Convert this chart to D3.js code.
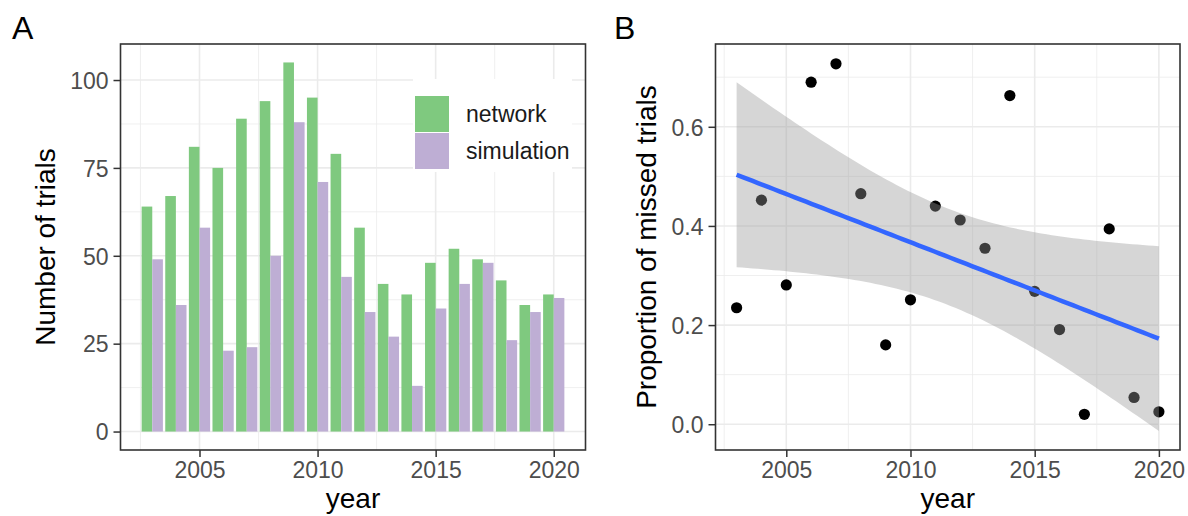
<!DOCTYPE html>
<html>
<head>
<meta charset="utf-8">
<script src="https://cdn.jsdelivr.net/npm/d3@7"></script>
<style>
  body { margin: 0; background: #fff; }
  svg { display: block; font-family: "Liberation Sans", Arial, sans-serif; }
  .tick text { fill: #4d4d4d; font-size: 23px; }
  .tick line { stroke: #333; stroke-width: 1.5; }
  .grid line { stroke: #ebebeb; }
</style>
</head>
<body>
<svg id="chart" width="1188" height="516"></svg>
<script>
// --- data ---
const years = [2003, 2004, 2005, 2006, 2007, 2008, 2009, 2010, 2011,
  2012, 2013, 2014, 2015, 2016, 2017, 2018, 2019, 2020];
const network = [64, 67, 81, 75, 89, 94, 105, 95, 79, 58, 42, 39, 48, 52, 49, 43, 36, 39];
const simulation = [49, 36, 58, 23, 24, 50, 88, 71, 44, 34, 27, 13, 35, 42, 48, 26, 34, 38];
const missed = [0.235, 0.452, 0.281, 0.690, 0.727, 0.465, 0.160, 0.251, 0.440,
  0.412, 0.355, 0.663, 0.268, 0.191, 0.020, 0.394, 0.054, 0.025];

const seriesNames = ["network", "simulation"];
const seriesColors = ["#7fc97f", "#beaed4"];
const yearTicks = [2005, 2010, 2015, 2020];
const countTicks = [0, 25, 50, 75, 100];
const propTicks = [0, 0.2, 0.4, 0.6];

const svg = d3.select("#chart");

// ggplot-ish minor breaks: halfway between majors, kept inside the domain
function minorBreaks(ticks, domain) {
  const step = ticks[1] - ticks[0];
  const out = [];
  for (let v = ticks[0] - step / 2; v <= domain[1]; v += step) {
    if (v >= domain[0]) out.push(v);
  }
  return out;
}

function makePanel(box, xDomain, yDomain, xTicks, yTicks, yFmt) {
  const x = d3.scaleLinear().domain(xDomain).range([box.left, box.right]);
  const y = d3.scaleLinear().domain(yDomain).range([box.bottom, box.top]);

  const grid = svg.append("g").attr("class", "grid");
  grid.selectAll(".vminor")
    .data(minorBreaks(xTicks, xDomain))
    .enter().append("line")
    .attr("x1", d => x(d)).attr("x2", d => x(d))
    .attr("y1", box.top).attr("y2", box.bottom)
    .attr("stroke-width", 0.8);
  grid.selectAll(".hminor")
    .data(minorBreaks(yTicks, yDomain))
    .enter().append("line")
    .attr("y1", d => y(d)).attr("y2", d => y(d))
    .attr("x1", box.left).attr("x2", box.right)
    .attr("stroke-width", 0.8);
  grid.selectAll(".vmajor")
    .data(xTicks)
    .enter().append("line")
    .attr("x1", d => x(d)).attr("x2", d => x(d))
    .attr("y1", box.top).attr("y2", box.bottom)
    .attr("stroke-width", 1.6);
  grid.selectAll(".hmajor")
    .data(yTicks)
    .enter().append("line")
    .attr("y1", d => y(d)).attr("y2", d => y(d))
    .attr("x1", box.left).attr("x2", box.right)
    .attr("stroke-width", 1.6);

  const data = svg.append("g");
  const front = svg.append("g");

  const finish = () => {
    front.append("g")
      .attr("transform", `translate(0,${box.bottom})`)
      .call(d3.axisBottom(x).tickValues(xTicks).tickFormat(d3.format("d"))
        .tickSize(7).tickPadding(5))
      .call(g => g.select(".domain").remove());
    front.append("g")
      .attr("transform", `translate(${box.left},0)`)
      .call(d3.axisLeft(y).tickValues(yTicks).tickFormat(yFmt)
        .tickSize(7).tickPadding(5))
      .call(g => g.select(".domain").remove())
      .selectAll("text").attr("dy", "0.36em");
    front.append("rect")
      .attr("x", box.left).attr("y", box.top)
      .attr("width", box.right - box.left)
      .attr("height", box.bottom - box.top)
      .attr("fill", "none")
      .attr("stroke", "#333")
      .attr("stroke-width", 1.6);
  };

  return { x, y, data, front, finish, box };
}

// --- panel A: bars ---
const boxA = { left: 120.5, right: 585.5, top: 44, bottom: 450 };
const pa = makePanel(boxA, [2001.655, 2021.345], [-5.25, 110.25],
  yearTicks, countTicks, d3.format("d"));

const barW = 0.45;
const rows = [];
years.forEach((yr, i) => {
  rows.push({ year: yr, s: 0, value: network[i] });
  rows.push({ year: yr, s: 1, value: simulation[i] });
});

pa.data.selectAll(".bar")
  .data(rows)
  .enter()
  .append("rect")
  .attr("class", "bar")
  .attr("x", d => pa.x(d.year - barW + d.s * barW))
  .attr("width", pa.x(barW) - pa.x(0))
  .attr("y", d => pa.y(d.value))
  .attr("height", d => pa.y(0) - pa.y(d.value))
  .attr("fill", d => seriesColors[d.s]);

// legend sits inside the panel
const leg = pa.data.append("g");
leg.append("rect")
  .attr("x", 413).attr("y", 79)
  .attr("width", 159).attr("height", 93)
  .attr("fill", "#fff");
seriesNames.forEach((name, i) => {
  leg.append("rect")
    .attr("x", 415).attr("y", 96 + i * 37)
    .attr("width", 34).attr("height", 36)
    .attr("fill", seriesColors[i]);
  leg.append("text")
    .attr("x", 466).attr("y", 121.5 + i * 37.5)
    .attr("font-size", 23)
    .attr("fill", "#1a1a1a")
    .text(name);
});
pa.finish();

// --- panel B: points + lm fit ---
const boxB = { left: 715.5, right: 1180, top: 44, bottom: 450 };
const pb = makePanel(boxB, [2002.15, 2020.85], [-0.052, 0.767],
  yearTicks, propTicks, d3.format(".1f"));

pb.data.selectAll(".pt")
  .data(years)
  .enter()
  .append("circle")
  .attr("class", "pt")
  .attr("cx", d => pb.x(d))
  .attr("cy", (d, i) => pb.y(missed[i]))
  .attr("r", 5.6)
  .attr("fill", "#000");

// simple linear regression with 95% confidence band
const n = years.length;
const xm = d3.mean(years), ym = d3.mean(missed);
const sxx = d3.sum(years, v => (v - xm) ** 2);
const sxy = d3.sum(years, (v, i) => (v - xm) * (missed[i] - ym));
const slope = sxy / sxx;
const icpt = ym - slope * xm;
const rss = d3.sum(years, (v, i) => (missed[i] - icpt - slope * v) ** 2);
const sigma = Math.sqrt(rss / (n - 2));
const tq = 2.1199; // qt(0.975, 16)
const x0 = d3.min(years), x1 = d3.max(years);
const fit = d3.range(80).map(k => {
  const xv = x0 + k * (x1 - x0) / 79;
  const fv = icpt + slope * xv;
  const se = sigma * Math.sqrt(1 / n + (xv - xm) ** 2 / sxx);
  return { x: xv, y: fv, lo: fv - tq * se, hi: fv + tq * se };
});

pb.data.append("path")
  .datum(fit)
  .attr("fill", "#999")
  .attr("fill-opacity", 0.4)
  .attr("d", d3.area().x(d => pb.x(d.x)).y0(d => pb.y(d.lo)).y1(d => pb.y(d.hi)));
pb.data.append("path")
  .datum(fit)
  .attr("fill", "none")
  .attr("stroke", "#3366ff")
  .attr("stroke-width", 4.5)
  .attr("d", d3.line().x(d => pb.x(d.x)).y(d => pb.y(d.y)));
pb.finish();

// --- titles ---
const titles = [
  { t: "year", x: (boxA.left + boxA.right) / 2, y: 508, r: 0 },
  { t: "year", x: (boxB.left + boxB.right) / 2, y: 508, r: 0 },
  { t: "Number of trials", x: 55, y: (boxA.top + boxA.bottom) / 2, r: -90 },
  { t: "Proportion of missed trials", x: 656, y: (boxB.top + boxB.bottom) / 2, r: -90 }
];
svg.selectAll(".title")
  .data(titles)
  .enter()
  .append("text")
  .attr("class", "title")
  .attr("transform", d => `translate(${d.x},${d.y}) rotate(${d.r})`)
  .attr("text-anchor", "middle")
  .attr("font-size", 28)
  .attr("fill", "#000")
  .text(d => d.t);

svg.append("text").attr("x", 12).attr("y", 39).attr("font-size", 32).text("A");
svg.append("text").attr("x", 614).attr("y", 39).attr("font-size", 32).text("B");
</script>
</body>
</html>
